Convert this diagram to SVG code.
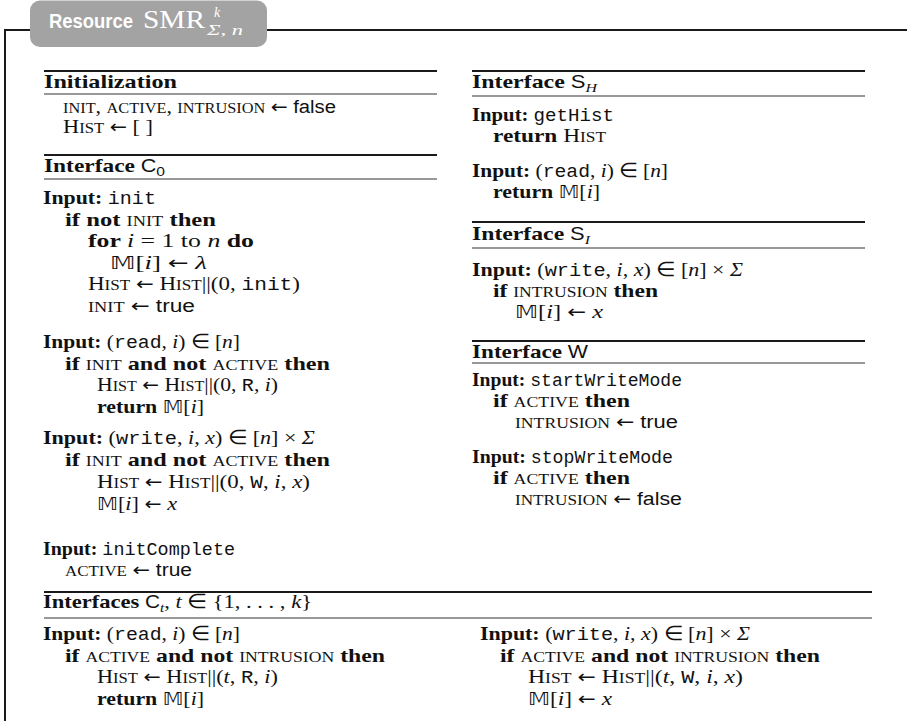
<svg xmlns="http://www.w3.org/2000/svg" width="907" height="721" viewBox="0 0 907 721">
<style>
text{font-family:"Liberation Serif",serif;font-size:19.5px;fill:#111}
.b{font-weight:bold}
.sc{font-size:14.5px}
.tt{font-family:"Liberation Mono",monospace;font-size:18px}
.sf{font-family:"Liberation Sans",sans-serif;font-size:18px}
.it{font-style:italic}
.bb{font-family:"DejaVu Sans",sans-serif;font-size:18px}
.ar{font-family:"DejaVu Sans",sans-serif;font-size:18px}
.sub{font-size:13px}
.thick{stroke:#1a1a1a;stroke-width:2.2}
.thin{stroke:#333;stroke-width:1.2}
.frame{stroke:#1a1a1a;stroke-width:2;fill:none}
</style>
<rect width="907" height="721" fill="#fff"/>
<g id="frame">
<path class="frame" d="M5 721 V30 H30 M267 30 H907"/>
<rect x="30" y="0.5" width="237" height="46.5" rx="10" fill="#a3a3a3"/>
<text x="49" y="28" textLength="84" lengthAdjust="spacingAndGlyphs" style="font-family:'Liberation Sans',sans-serif;font-weight:bold;font-size:20.5px;fill:#fff">Resource</text>
<text x="143" y="28" textLength="62" lengthAdjust="spacingAndGlyphs" style="font-size:25px;fill:#fff">SMR</text>
<text x="214" y="17" class="it" style="font-size:14px;fill:#fff">k</text>
<text x="207" y="35" class="it" textLength="36" lengthAdjust="spacingAndGlyphs" style="font-size:15px;fill:#fff">Σ, n</text>
</g>
<g id="initialization">
<line class="thick" x1="44" y1="71" x2="437" y2="71"/>
<line class="thin" x1="44" y1="94" x2="437" y2="94"/>
<text x="44" y="88" class="b" textLength="133" lengthAdjust="spacingAndGlyphs">Initialization</text>
<text x="63" y="113" textLength="273" lengthAdjust="spacingAndGlyphs"><tspan class="sc">INIT</tspan>, <tspan class="sc">ACTIVE</tspan>, <tspan class="sc">INTRUSION</tspan> <tspan class="ar">←</tspan> <tspan class="sf">false</tspan></text>
<text x="63" y="133" textLength="90" lengthAdjust="spacingAndGlyphs">H<tspan class="sc">IST</tspan> <tspan class="ar">←</tspan> [ ]</text>
</g>
<g id="interface-c0">
<line class="thick" x1="44" y1="155" x2="437" y2="155"/>
<line class="thin" x1="44" y1="179" x2="437" y2="179"/>
<text x="44" y="172" textLength="121" lengthAdjust="spacingAndGlyphs"><tspan class="b">Interface </tspan><tspan class="sf">C</tspan><tspan class="sf sub" dy="4">0</tspan></text>
<text x="43" y="204" textLength="113" lengthAdjust="spacingAndGlyphs"><tspan class="b">Input:</tspan> <tspan class="tt">init</tspan></text>
<text x="65" y="225.5" textLength="151" lengthAdjust="spacingAndGlyphs"><tspan class="b">if not </tspan><tspan class="sc">INIT</tspan><tspan class="b"> then</tspan></text>
<text x="88" y="247" textLength="166" lengthAdjust="spacingAndGlyphs"><tspan class="b">for </tspan><tspan class="it">i</tspan> = 1 to <tspan class="it">n</tspan><tspan class="b"> do</tspan></text>
<text x="110" y="268.5" textLength="97" lengthAdjust="spacingAndGlyphs"><tspan class="bb">𝕄</tspan>[<tspan class="it">i</tspan>] <tspan class="ar">←</tspan> <tspan class="it">λ</tspan></text>
<text x="88" y="290" textLength="212" lengthAdjust="spacingAndGlyphs">H<tspan class="sc">IST</tspan> <tspan class="ar">←</tspan> H<tspan class="sc">IST</tspan>||(0, <tspan class="tt">init</tspan>)</text>
<text x="88" y="311.5" textLength="107" lengthAdjust="spacingAndGlyphs"><tspan class="sc">INIT</tspan> <tspan class="ar">←</tspan> <tspan class="sf">true</tspan></text>
<text x="43" y="348" textLength="197" lengthAdjust="spacingAndGlyphs"><tspan class="b">Input:</tspan> (<tspan class="tt">read</tspan>, <tspan class="it">i</tspan>) ∈ [<tspan class="it">n</tspan>]</text>
<text x="65" y="369.5" textLength="265" lengthAdjust="spacingAndGlyphs"><tspan class="b">if </tspan><tspan class="sc">INIT</tspan><tspan class="b"> and not </tspan><tspan class="sc">ACTIVE</tspan><tspan class="b"> then</tspan></text>
<text x="97" y="391" textLength="181" lengthAdjust="spacingAndGlyphs">H<tspan class="sc">IST</tspan> <tspan class="ar">←</tspan> H<tspan class="sc">IST</tspan>||(0, <tspan class="tt">R</tspan>, <tspan class="it">i</tspan>)</text>
<text x="97" y="412.5" textLength="107" lengthAdjust="spacingAndGlyphs"><tspan class="b">return </tspan><tspan class="bb">𝕄</tspan>[<tspan class="it">i</tspan>]</text>
<text x="43" y="444" textLength="272" lengthAdjust="spacingAndGlyphs"><tspan class="b">Input:</tspan> (<tspan class="tt">write</tspan>, <tspan class="it">i</tspan>, <tspan class="it">x</tspan>) ∈ [<tspan class="it">n</tspan>] × <tspan class="it">Σ</tspan></text>
<text x="65" y="466" textLength="265" lengthAdjust="spacingAndGlyphs"><tspan class="b">if </tspan><tspan class="sc">INIT</tspan><tspan class="b"> and not </tspan><tspan class="sc">ACTIVE</tspan><tspan class="b"> then</tspan></text>
<text x="97" y="488" textLength="213" lengthAdjust="spacingAndGlyphs">H<tspan class="sc">IST</tspan> <tspan class="ar">←</tspan> H<tspan class="sc">IST</tspan>||(0, <tspan class="tt">W</tspan>, <tspan class="it">i</tspan>, <tspan class="it">x</tspan>)</text>
<text x="97" y="509.5" textLength="80" lengthAdjust="spacingAndGlyphs"><tspan class="bb">𝕄</tspan>[<tspan class="it">i</tspan>] <tspan class="ar">←</tspan> <tspan class="it">x</tspan></text>
<text x="43" y="555" textLength="192" lengthAdjust="spacingAndGlyphs"><tspan class="b">Input:</tspan> <tspan class="tt">initComplete</tspan></text>
<text x="65" y="576" textLength="127" lengthAdjust="spacingAndGlyphs"><tspan class="sc">ACTIVE</tspan> <tspan class="ar">←</tspan> <tspan class="sf">true</tspan></text>
</g>
<g id="interface-sh">
<line class="thick" x1="472" y1="71" x2="865" y2="71"/>
<line class="thin" x1="472" y1="96" x2="865" y2="96"/>
<text x="472" y="88" textLength="125" lengthAdjust="spacingAndGlyphs"><tspan class="b">Interface </tspan><tspan class="sf">S</tspan><tspan class="it sub" dy="4">H</tspan></text>
<text x="472" y="121" textLength="142" lengthAdjust="spacingAndGlyphs"><tspan class="b">Input:</tspan> <tspan class="tt">getHist</tspan></text>
<text x="493" y="142" textLength="113" lengthAdjust="spacingAndGlyphs"><tspan class="b">return </tspan>H<tspan class="sc">IST</tspan></text>
<text x="472" y="177" textLength="196" lengthAdjust="spacingAndGlyphs"><tspan class="b">Input:</tspan> (<tspan class="tt">read</tspan>, <tspan class="it">i</tspan>) ∈ [<tspan class="it">n</tspan>]</text>
<text x="493" y="198" textLength="107" lengthAdjust="spacingAndGlyphs"><tspan class="b">return </tspan><tspan class="bb">𝕄</tspan>[<tspan class="it">i</tspan>]</text>
</g>
<g id="interface-si">
<line class="thick" x1="472" y1="222" x2="865" y2="222"/>
<line class="thin" x1="472" y1="248" x2="865" y2="248"/>
<text x="472" y="240" textLength="118" lengthAdjust="spacingAndGlyphs"><tspan class="b">Interface </tspan><tspan class="sf">S</tspan><tspan class="it sub" dy="4">I</tspan></text>
<text x="472" y="276" textLength="271" lengthAdjust="spacingAndGlyphs"><tspan class="b">Input:</tspan> (<tspan class="tt">write</tspan>, <tspan class="it">i</tspan>, <tspan class="it">x</tspan>) ∈ [<tspan class="it">n</tspan>] × <tspan class="it">Σ</tspan></text>
<text x="493" y="297" textLength="165" lengthAdjust="spacingAndGlyphs"><tspan class="b">if </tspan><tspan class="sc">INTRUSION</tspan><tspan class="b"> then</tspan></text>
<text x="515" y="318" textLength="88" lengthAdjust="spacingAndGlyphs"><tspan class="bb">𝕄</tspan>[<tspan class="it">i</tspan>] <tspan class="ar">←</tspan> <tspan class="it">x</tspan></text>
</g>
<g id="interface-w">
<line class="thick" x1="472" y1="341" x2="865" y2="341"/>
<line class="thin" x1="472" y1="363" x2="865" y2="363"/>
<text x="472" y="358" textLength="116" lengthAdjust="spacingAndGlyphs"><tspan class="b">Interface </tspan><tspan class="sf">W</tspan></text>
<text x="472" y="386" textLength="210" lengthAdjust="spacingAndGlyphs"><tspan class="b">Input:</tspan> <tspan class="tt">startWriteMode</tspan></text>
<text x="493" y="407" textLength="137" lengthAdjust="spacingAndGlyphs"><tspan class="b">if </tspan><tspan class="sc">ACTIVE</tspan><tspan class="b"> then</tspan></text>
<text x="515" y="428" textLength="163" lengthAdjust="spacingAndGlyphs"><tspan class="sc">INTRUSION</tspan> <tspan class="ar">←</tspan> <tspan class="sf">true</tspan></text>
<text x="472" y="463" textLength="201" lengthAdjust="spacingAndGlyphs"><tspan class="b">Input:</tspan> <tspan class="tt">stopWriteMode</tspan></text>
<text x="493" y="484" textLength="137" lengthAdjust="spacingAndGlyphs"><tspan class="b">if </tspan><tspan class="sc">ACTIVE</tspan><tspan class="b"> then</tspan></text>
<text x="515" y="505" textLength="167" lengthAdjust="spacingAndGlyphs"><tspan class="sc">INTRUSION</tspan> <tspan class="ar">←</tspan> <tspan class="sf">false</tspan></text>
</g>
<g id="interfaces-ct">
<line class="thick" x1="44" y1="592" x2="872" y2="592"/>
<line class="thin" x1="44" y1="618" x2="872" y2="618"/>
<text x="43" y="608" textLength="269" lengthAdjust="spacingAndGlyphs"><tspan class="b">Interfaces </tspan><tspan class="sf">C</tspan><tspan class="it sub" dy="4">t</tspan><tspan dy="-4">, </tspan><tspan class="it">t</tspan> ∈ {1, . . . , <tspan class="it">k</tspan>}</text>
<text x="43" y="640" textLength="197" lengthAdjust="spacingAndGlyphs"><tspan class="b">Input:</tspan> (<tspan class="tt">read</tspan>, <tspan class="it">i</tspan>) ∈ [<tspan class="it">n</tspan>]</text>
<text x="65" y="661.5" textLength="320" lengthAdjust="spacingAndGlyphs"><tspan class="b">if </tspan><tspan class="sc">ACTIVE</tspan><tspan class="b"> and not </tspan><tspan class="sc">INTRUSION</tspan><tspan class="b"> then</tspan></text>
<text x="97" y="683" textLength="181" lengthAdjust="spacingAndGlyphs">H<tspan class="sc">IST</tspan> <tspan class="ar">←</tspan> H<tspan class="sc">IST</tspan>||(<tspan class="it">t</tspan>, <tspan class="tt">R</tspan>, <tspan class="it">i</tspan>)</text>
<text x="97" y="704.5" textLength="107" lengthAdjust="spacingAndGlyphs"><tspan class="b">return </tspan><tspan class="bb">𝕄</tspan>[<tspan class="it">i</tspan>]</text>
<text x="480" y="640" textLength="270" lengthAdjust="spacingAndGlyphs"><tspan class="b">Input:</tspan> (<tspan class="tt">write</tspan>, <tspan class="it">i</tspan>, <tspan class="it">x</tspan>) ∈ [<tspan class="it">n</tspan>] × <tspan class="it">Σ</tspan></text>
<text x="500" y="661.5" textLength="320" lengthAdjust="spacingAndGlyphs"><tspan class="b">if </tspan><tspan class="sc">ACTIVE</tspan><tspan class="b"> and not </tspan><tspan class="sc">INTRUSION</tspan><tspan class="b"> then</tspan></text>
<text x="528" y="683" textLength="215" lengthAdjust="spacingAndGlyphs">H<tspan class="sc">IST</tspan> <tspan class="ar">←</tspan> H<tspan class="sc">IST</tspan>||(<tspan class="it">t</tspan>, <tspan class="tt">W</tspan>, <tspan class="it">i</tspan>, <tspan class="it">x</tspan>)</text>
<text x="528" y="704.5" textLength="84" lengthAdjust="spacingAndGlyphs"><tspan class="bb">𝕄</tspan>[<tspan class="it">i</tspan>] <tspan class="ar">←</tspan> <tspan class="it">x</tspan></text>
</g>
<g id="connectors"></g>
</svg>
